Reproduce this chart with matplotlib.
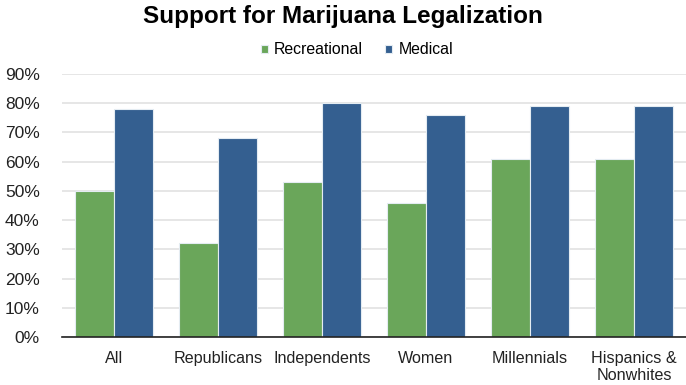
import matplotlib
matplotlib.use("Agg")
import matplotlib.pyplot as plt
import numpy as np
from matplotlib.ticker import PercentFormatter

categories = ["All", "Republicans", "Independents", "Women", "Millennials",
              "Hispanics &\nNonwhites"]
recreational = [50, 32, 53, 46, 61, 61]
medical = [78, 68, 80, 76, 79, 79]

GREEN = "#6aa65a"
BLUE = "#345f90"

plt.rcParams["font.family"] = ["Liberation Sans", "DejaVu Sans"]

fig = plt.figure(figsize=(6.86, 3.85), dpi=100)
ax = fig.add_axes([62 / 686, 1 - 337 / 385, 1 - 62 / 686, (337 - 74) / 385])

x = np.arange(len(categories))
width = 0.375
ax.bar(x - width / 2, recreational, width, color=GREEN, edgecolor="#e4ecf2",
       linewidth=0.8, label="Recreational", zorder=3)
ax.bar(x + width / 2, medical, width, color=BLUE, edgecolor="#e4ecf2",
       linewidth=0.8, label="Medical", zorder=3)

ax.set_xlim(-0.5, len(categories) - 0.5)
ax.set_ylim(0, 90)
ax.set_yticks(range(0, 91, 10))
ax.yaxis.set_major_formatter(PercentFormatter(decimals=0))
ax.grid(axis="y", color="#e2e2e2", linewidth=1.2, zorder=0)
ax.set_xticks(x)
ax.set_xticklabels(categories)
ax.tick_params(axis="both", length=0, colors="#222222")
ax.tick_params(axis="x", pad=10, labelsize=11.6)
ax.tick_params(axis="y", pad=16, labelsize=12.5)
for side in ["top", "right", "left"]:
    ax.spines[side].set_visible(False)
ax.spines["bottom"].set_color("#222222")
ax.spines["bottom"].set_linewidth(1.2)
ax.spines["bottom"].set_zorder(4)

fig.text(0.5, 1 - 17 / 385, "Support for Marijuana Legalization", ha="center",
         va="center", fontsize=17.5, fontweight="bold")
fig.legend(loc="center", bbox_to_anchor=(357 / 686, 1 - 50 / 385), ncol=2,
           frameon=False, fontsize=11.4, handlelength=0.45, handleheight=0.45,
           handletextpad=0.4, columnspacing=1.4)

fig.savefig("out.png", dpi=100)
